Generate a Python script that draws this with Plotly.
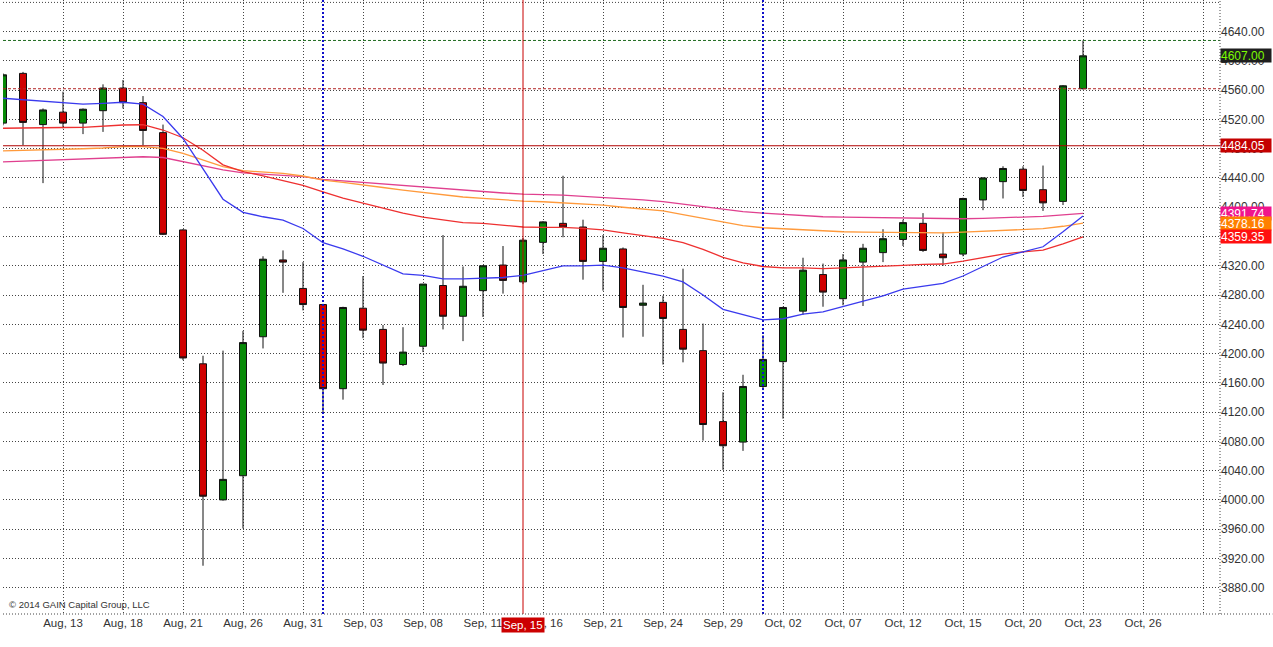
import plotly.graph_objects as go

# candle index -> OHLC (daily, index 0 = Aug 08)
opens = [4515, 4583, 4513, 4530, 4515, 4532, 4563, 4543, 4502, 4369,
         4186, 4000, 4033, 4223, 4328, 4289, 4267, 4152, 4262, 4233,
         4185, 4210, 4293, 4251, 4286, 4321, 4298, 4352, 4378, 4373,
         4326, 4343, 4266, 4270, 4233, 4204, 4107, 4079, 4155, 4189,
         4258, 4308, 4275, 4325, 4338, 4356, 4378, 4336, 4336, 4410,
         4435, 4452, 4424, 4408, 4562]
highs = [4583, 4585, 4535, 4558, 4535, 4568, 4574, 4552, 4513, 4370,
         4197, 4204, 4231, 4333, 4341, 4325, 4268, 4264, 4306, 4239,
         4236, 4295, 4362, 4319, 4321, 4347, 4358, 4381, 4443, 4383,
         4362, 4345, 4294, 4279, 4316, 4241, 4147, 4171, 4225, 4264,
         4331, 4323, 4336, 4350, 4370, 4383, 4392, 4366, 4413, 4441,
         4456, 4456, 4457, 4567, 4628]
lows = [4512, 4485, 4433, 4508, 4500, 4503, 4535, 4485, 4362, 4191,
        3910, 3999, 3961, 4207, 4283, 4259, 4120, 4137, 4221, 4157,
        4183, 4202, 4233, 4217, 4250, 4282, 4295, 4336, 4359, 4301,
        4286, 4222, 4223, 4185, 4188, 4081, 4041, 4067, 4150, 4111,
        4253, 4264, 4266, 4265, 4325, 4347, 4339, 4320, 4333, 4396,
        4412, 4414, 4395, 4403, 4561]
closes = [4581, 4516, 4533, 4515, 4534, 4563, 4543, 4505, 4363, 4194,
          4005, 4028, 4215, 4329, 4325, 4267, 4152, 4263, 4232, 4187,
          4202, 4295, 4251, 4292, 4320, 4300, 4355, 4380, 4373, 4326,
          4344, 4263, 4269, 4248, 4206, 4103, 4074, 4155, 4192, 4263,
          4314, 4284, 4328, 4344, 4357, 4379, 4341, 4331, 4412, 4440,
          4453, 4423, 4406, 4566, 4607]

# moving averages
ma_blue = [4549, 4547, 4545, 4543, 4541, 4542, 4543.5, 4541, 4524, 4494,
           4453, 4411, 4393, 4387, 4382.5, 4371, 4351.5, 4343, 4333, 4321,
           4309, 4307, 4302, 4302, 4303, 4304, 4307, 4314, 4320, 4320,
           4321, 4317, 4312, 4306, 4298, 4280, 4260.5, 4253, 4246, 4247.6,
           4254, 4257, 4264, 4271, 4279, 4288, 4292, 4296, 4306, 4319,
           4332, 4339, 4346, 4366.5, 4388]
ma_red = [4508, 4508, 4508.5, 4509, 4509.3, 4511, 4512.4, 4512.8, 4505.6, 4495,
          4478, 4458, 4448.6, 4443, 4437, 4430, 4421, 4412.6, 4405.8, 4399,
          4392, 4386.6, 4383, 4379, 4378, 4376, 4373, 4372.6, 4372.6, 4371,
          4369, 4365, 4361.6, 4357.5, 4351.5, 4342.5, 4331.6, 4324, 4319, 4317,
          4317, 4316, 4317, 4318, 4318.7, 4320.6, 4322, 4322.4, 4326.5, 4331,
          4336, 4339, 4341.5, 4350, 4359.35]
ma_orange = [4477, 4477.5, 4478, 4479, 4480, 4481, 4482.8, 4482.8, 4480.6, 4473.7,
             4464.6, 4455.4, 4450, 4448, 4446.4, 4442.7, 4437, 4434, 4431, 4427,
             4423.5, 4420, 4417, 4414, 4412, 4410, 4408.5, 4407.5, 4406, 4404.5,
             4403, 4400, 4397.5, 4395, 4390, 4385, 4379, 4375, 4372, 4370.5,
             4369, 4367.5, 4366.5, 4366, 4365.5, 4365.2, 4365, 4365, 4366, 4367,
             4368.5, 4369.8, 4370.7, 4374, 4378.16]
ma_pink = [4462, 4463, 4464, 4465, 4467, 4468, 4469, 4469, 4468, 4462,
           4456, 4451, 4447, 4445.5, 4444, 4442, 4438, 4436, 4434, 4431.5,
           4429, 4427, 4425, 4423, 4421, 4419.5, 4418, 4417.5, 4416.7, 4415,
           4413.6, 4412, 4410, 4407.6, 4404, 4400.5, 4397, 4394, 4392, 4390,
           4388.5, 4387, 4386.5, 4386, 4385.5, 4385, 4384.5, 4384.3, 4384.3, 4384.8,
           4385.5, 4386.5, 4387.5, 4389.5, 4391.74]

tick_pos = [0, 3, 6, 9, 12, 15, 18, 21, 24, 27, 30, 33, 36, 39, 42, 45, 48, 51, 54, 57, 60]
tick_text = ["", "Aug, 13", "Aug, 18", "Aug, 21", "Aug, 26", "Aug, 31", "Sep, 03",
             "Sep, 08", "Sep, 11", "Sep, 16", "Sep, 21", "Sep, 24", "Sep, 29",
             "Oct, 02", "Oct, 07", "Oct, 12", "Oct, 15", "Oct, 20", "Oct, 23", "Oct, 26", ""]
price_ticks = [3880, 3920, 3960, 4000, 4040, 4080, 4120, 4160, 4200, 4240, 4280,
               4320, 4360, 4400, 4440, 4480, 4520, 4560, 4600, 4640]
top_grid = 4680

month_lines = [16, 38]
cursor_idx = 26
cursor_label = "Sep, 15"
high_line = 4628
open_line = 4562
pivot_line = 4484.05
last_close = 4607.00

idx = list(range(len(opens)))
font = "Liberation Sans, Arial, sans-serif"
grid_dash = "1px,2px"

fig = go.Figure()
fig.add_trace(go.Candlestick(
    x=idx, open=opens, high=highs, low=lows, close=closes,
    increasing=dict(fillcolor="#078a07", line=dict(color="#111", width=1)),
    decreasing=dict(fillcolor="#d00000", line=dict(color="#111", width=1)),
    whiskerwidth=0, showlegend=False, hoverinfo="skip"))

for vals, col in [(ma_pink, "#e0408f"), (ma_orange, "#ff9a3c"),
                  (ma_red, "#ee3030"), (ma_blue, "#3a3aee")]:
    fig.add_trace(go.Scatter(x=idx, y=vals, mode="lines", line=dict(color=col, width=1.3),
                             showlegend=False, hoverinfo="skip"))

# top grid line (no label there)
fig.add_shape(type="line", xref="paper", x0=0, x1=1, y0=top_grid, y1=top_grid,
              line=dict(color="#444", width=1, dash=grid_dash), layer="below")

# horizontal levels
fig.add_shape(type="line", xref="paper", x0=0, x1=1, y0=high_line, y1=high_line,
              line=dict(color="#1f6b1f", width=1, dash="3px,2px"))
fig.add_shape(type="line", xref="paper", x0=0, x1=1, y0=open_line, y1=open_line,
              line=dict(color="#b22222", width=1, dash="3px,2px"))
fig.add_shape(type="line", xref="paper", x0=0, x1=1, y0=pivot_line, y1=pivot_line,
              line=dict(color="#b00000", width=1.2))

# month separators and cursor
for m in month_lines:
    fig.add_shape(type="line", x0=m, x1=m, yref="paper", y0=0, y1=1,
                  line=dict(color="#1010c8", width=2, dash="2px,2px"))
fig.add_shape(type="line", x0=cursor_idx, x1=cursor_idx, yref="paper", y0=0, y1=1,
              line=dict(color="#c80000", width=1))

# frame: right edge and bottom dotted
fig.add_shape(type="line", xref="paper", x0=1, x1=1, yref="paper", y0=0, y1=1,
              line=dict(color="#444", width=1, dash=grid_dash))
fig.add_shape(type="line", xref="paper", x0=0, x1=1.043, yref="paper", y0=0, y1=0,
              line=dict(color="#444", width=1, dash=grid_dash))

# right side value boxes
boxes = [(last_close, "#7cfc00", "#1e1e1e"),
         (pivot_line, "white", "#c40000"),
         (ma_pink[-1], "white", "#f0148c"),
         (ma_orange[-1], "white", "#ff8000"),
         (ma_red[-1], "white", "#ff1010")]
for v, fc, bg in boxes:
    fig.add_annotation(xref="paper", x=1.0, y=v, text="%.2f" % v, showarrow=False,
                       xanchor="left", yanchor="middle", bgcolor=bg,
                       font=dict(family=font, size=12, color=fc),
                       borderpad=0, width=50, height=13, align="left")

fig.add_annotation(x=cursor_idx, yref="paper", y=0, text=cursor_label, showarrow=False,
                   yanchor="top", yshift=-3, bgcolor="#cc0000",
                   font=dict(family=font, size=11.5, color="white"), borderpad=1)

fig.add_annotation(xref="paper", yref="paper", x=0.003, y=0.0, xanchor="left", yanchor="bottom",
                   text="© 2014 GAIN Capital Group, LLC", showarrow=False, yshift=2,
                   font=dict(family=font, size=9.5, color="#333"))

fig.update_layout(
    width=1273, height=647,
    margin=dict(l=3, r=53, t=0, b=33, autoexpand=False),
    paper_bgcolor="white", plot_bgcolor="white",
    boxgap=0.5,
    font=dict(family=font, size=12, color="#333"),
    xaxis=dict(range=[0, 60.85], tickvals=tick_pos, ticktext=tick_text, automargin=False,
               showgrid=True, gridcolor="#444", griddash=grid_dash, gridwidth=1,
               zeroline=False, showline=False, ticks="", rangeslider=dict(visible=False),
               tickfont=dict(family=font, size=11.5, color="#333")),
    yaxis=dict(range=[3844, 4683.3], side="right", tickvals=price_ticks, automargin=False,
               tickformat=".2f", showgrid=True, gridcolor="#444", griddash=grid_dash,
               gridwidth=1, zeroline=False, showline=False, ticks="",
               tickfont=dict(family=font, size=12, color="#333")),
)

# page body has an 8px margin by default; drop it so the chart fills the window
fig.write_html("out.html", config={"displayModeBar": False},
               post_script="document.body.style.margin='0';document.body.style.overflow='hidden';")
